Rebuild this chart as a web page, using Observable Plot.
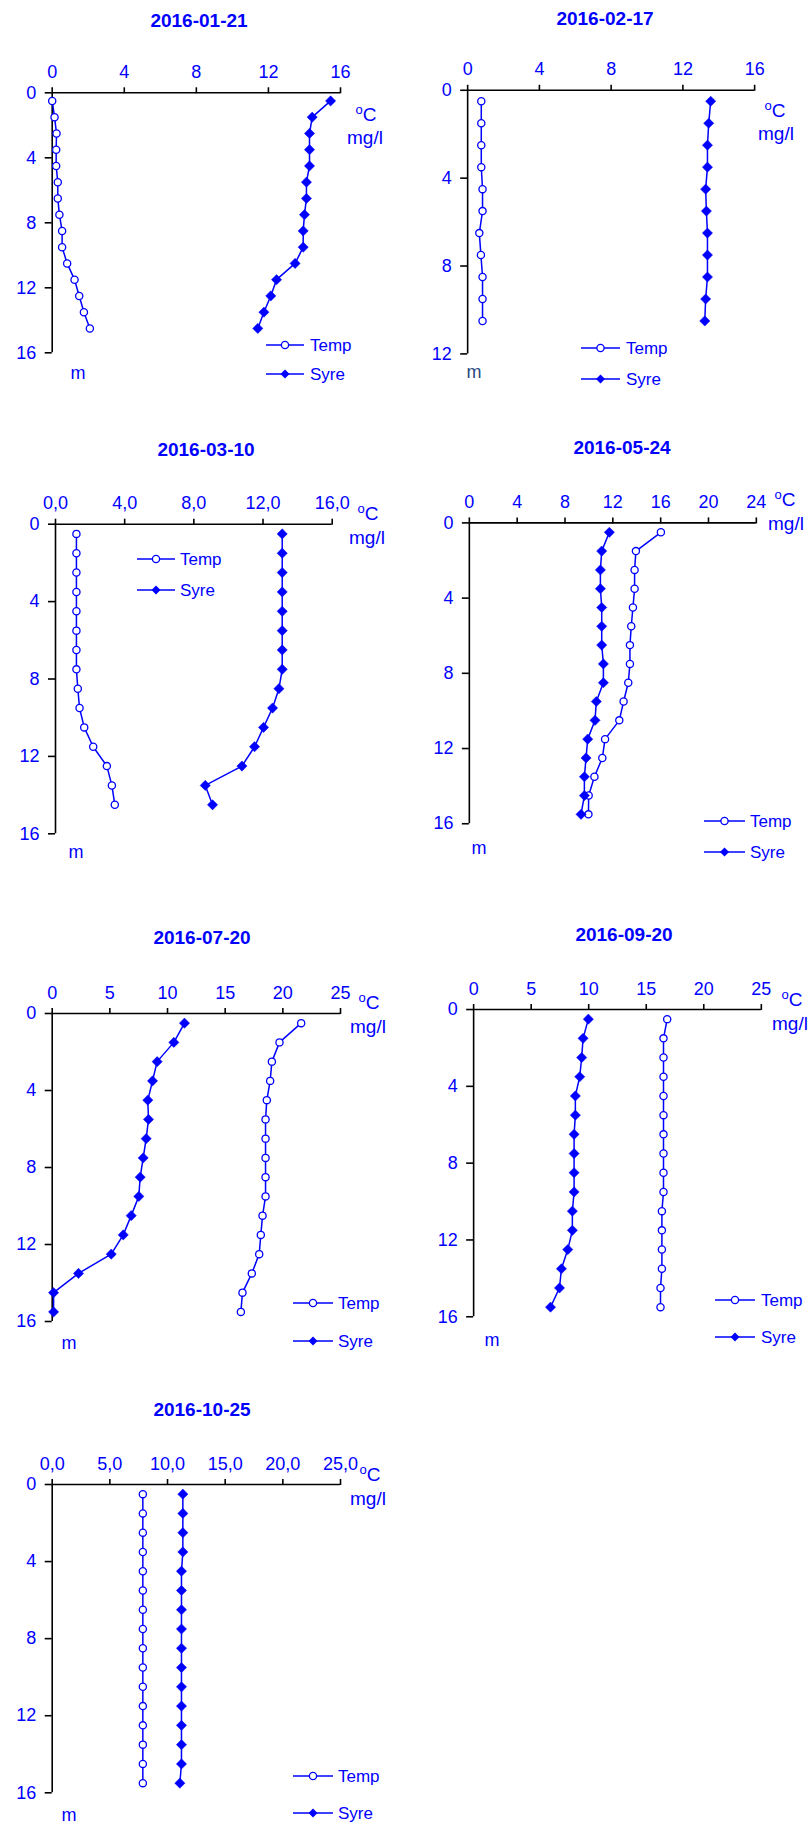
<!DOCTYPE html>
<html><head><meta charset="utf-8">
<script src="https://cdn.jsdelivr.net/npm/d3@7"></script>
<script src="https://cdn.jsdelivr.net/npm/@observablehq/plot@0.6"></script>
<style>
body{margin:0;background:#fff;}
#wrap{position:relative;width:809px;height:1825px;overflow:hidden;font-family:"Liberation Sans",Arial,sans-serif;color:#0000ff;}
.t{position:absolute;white-space:nowrap;line-height:1;}
.c{transform:translate(-50%,-50%);}
.l{transform:translate(0,-50%);}
.title{font-weight:bold;font-size:19px;}
.unit{font-size:19px;}
.m{font-size:18px;}
.leg{font-size:17px;}
.plotbox{position:absolute;}
.plotbox g[aria-label$="tick label"]{fill:#0000ff;}
</style>
</head><body>
<div id="wrap"></div>
<script>
// ---------- data ----------
const dates = ["2016-01-21","2016-02-17","2016-03-10","2016-05-24","2016-07-20","2016-09-20","2016-10-25"];

const depth11 = [0.5,1.5,2.5,3.5,4.5,5.5,6.5,7.5,8.5,9.5,10.5];
const depth15 = [0.5,1.5,2.5,3.5,4.5,5.5,6.5,7.5,8.5,9.5,10.5,11.5,12.5,13.5,14.5];
const depth16 = [0.5,1.5,2.5,3.5,4.5,5.5,6.5,7.5,8.5,9.5,10.5,11.5,12.5,13.5,14.5,15.5];

const temp_0121 = [0.0,0.13,0.24,0.22,0.22,0.31,0.31,0.40,0.55,0.55,0.83,1.24,1.50,1.76,2.09];
const syre_0121 = [15.45,14.43,14.28,14.28,14.28,14.11,14.11,14.00,13.93,13.93,13.48,12.45,12.13,11.75,11.41];

const temp_0217 = [0.76,0.76,0.76,0.76,0.83,0.83,0.65,0.74,0.83,0.83,0.83];
const syre_0217 = [13.55,13.44,13.37,13.37,13.27,13.31,13.37,13.37,13.37,13.27,13.22];

const temp_0310 = [1.21,1.21,1.21,1.21,1.21,1.21,1.21,1.21,1.29,1.39,1.66,2.18,2.97,3.26,3.43];
const syre_0310 = [13.11,13.11,13.11,13.11,13.11,13.11,13.11,13.11,12.92,12.55,12.03,11.51,10.78,8.66,9.08];

const temp_0524 = [16.02,13.93,13.82,13.82,13.68,13.54,13.43,13.43,13.29,12.90,12.54,11.35,11.12,10.46,9.98,9.96];
const syre_0524 = [11.71,11.07,10.96,10.96,11.07,11.07,11.07,11.21,11.21,10.62,10.51,9.90,9.76,9.62,9.62,9.34];

const temp_0720 = [21.59,19.71,19.05,18.90,18.61,18.50,18.50,18.50,18.50,18.50,18.24,18.09,17.95,17.31,16.50,16.36];
const syre_0720 = [11.47,10.55,9.10,8.70,8.29,8.35,8.15,7.89,7.63,7.51,6.85,6.16,5.12,2.28,0.12,0.12];

const temp_0920 = [16.82,16.50,16.50,16.50,16.50,16.50,16.50,16.50,16.50,16.50,16.36,16.36,16.36,16.36,16.24,16.24];
const syre_0920 = [9.97,9.51,9.39,9.22,8.84,8.84,8.73,8.73,8.73,8.73,8.58,8.58,8.18,7.63,7.46,6.68];

const temp_1025 = [7.86,7.86,7.86,7.86,7.86,7.86,7.86,7.86,7.86,7.86,7.86,7.86,7.86,7.86,7.86,7.86];
const syre_1025 = [11.33,11.33,11.33,11.33,11.21,11.21,11.21,11.21,11.21,11.21,11.21,11.21,11.21,11.21,11.21,11.07];

const xTicks16 = [0,4,8,12,16];
const xTicks24 = [0,4,8,12,16,20,24];
const xTicks25 = [0,5,10,15,20,25];
const yTicks16 = [0,4,8,12,16];
const yTicks12 = [0,4,8,12];

const seriesNames = ["Temp","Syre"];

const panels = [
  {date:dates[0], depth:depth15, temp:temp_0121, syre:syre_0121, xmax:16, ymax:16, xticks:xTicks16, yticks:yTicks16, comma:false},
  {date:dates[1], depth:depth11, temp:temp_0217, syre:syre_0217, xmax:16, ymax:12, xticks:xTicks16, yticks:yTicks12, comma:false},
  {date:dates[2], depth:depth15, temp:temp_0310, syre:syre_0310, xmax:16, ymax:16, xticks:xTicks16, yticks:yTicks16, comma:true},
  {date:dates[3], depth:depth16, temp:temp_0524, syre:syre_0524, xmax:24, ymax:16, xticks:xTicks24, yticks:yTicks16, comma:false},
  {date:dates[4], depth:depth16, temp:temp_0720, syre:syre_0720, xmax:25, ymax:16, xticks:xTicks25, yticks:yTicks16, comma:false},
  {date:dates[5], depth:depth16, temp:temp_0920, syre:syre_0920, xmax:25, ymax:16, xticks:xTicks25, yticks:yTicks16, comma:false},
  {date:dates[6], depth:depth16, temp:temp_1025, syre:syre_1025, xmax:25, ymax:16, xticks:xTicks25, yticks:yTicks16, comma:true}
];

// ---------- layout (page pixels) ----------
const layout = [
  {left:0,   top:0,    h:400, x0:51.7,  x1:340,   y0:92.3,   y1:352.3,
   title:[199,20], oc:[366,114], mg:[365,137], m:[78,373], mColor:"#0000ff", leg:[266,304,345,374,310]},
  {left:405, top:0,    h:400, x0:467.3, x1:755,   y0:90,     y1:354.3,
   title:[605,18], oc:[775,110], mg:[776,133], m:[474,372], mColor:"#1f497d", leg:[581,620,348,379,626]},
  {left:0,   top:400,  h:480, x0:55,    x1:331.7, y0:523.7,  y1:833.3,
   title:[206,449], oc:[368,513], mg:[367,537], m:[76,852], mColor:"#0000ff", leg:[137,175,559,590,180]},
  {left:405, top:400,  h:480, x0:469,   x1:756.7, y0:522.7,  y1:824.3,
   title:[622,447], oc:[785,499], mg:[786,523], m:[479,848], mColor:"#0000ff", leg:[704,745,821,852,750]},
  {left:0,   top:900,  h:480, x0:51.7,  x1:340,   y0:1013,   y1:1321,
   title:[202,937], oc:[369,1002], mg:[368,1026], m:[69,1343], mColor:"#0000ff", leg:[293,333,1303,1341,338]},
  {left:405, top:900,  h:480, x0:473.3, x1:761.7, y0:1009.3, y1:1317.3,
   title:[624,934], oc:[792,999], mg:[790,1023], m:[492,1340], mColor:"#0000ff", leg:[715,755,1300,1337,761]},
  {left:0,   top:1400, h:425, x0:51.7,  x1:340,   y0:1484,   y1:1792.3,
   title:[202,1409], oc:[370,1474], mg:[368,1498], m:[69,1815], mColor:"#0000ff", leg:[293,333,1776,1813,338]}
];

const BLUE = "#0000ff";
const wrap = document.getElementById("wrap");

function addText(html, cls, x, y, color) {
  const d = document.createElement("div");
  d.className = "t " + cls;
  d.style.left = x + "px";
  d.style.top = y + "px";
  if (color) d.style.color = color;
  d.innerHTML = html;
  wrap.appendChild(d);
}

function legendItem(x0, x1, y, tx, name) {
  const w = x1 - x0;
  const svgNS = "http://www.w3.org/2000/svg";
  const s = document.createElementNS(svgNS, "svg");
  s.setAttribute("width", w + 2);
  s.setAttribute("height", 14);
  s.style.position = "absolute";
  s.style.left = (x0 - 1) + "px";
  s.style.top = (y - 7) + "px";
  const mid = 1 + w / 2;
  let inner = `<line x1="1" x2="${w + 1}" y1="7" y2="7" stroke="${BLUE}" stroke-width="1.5"/>`;
  if (name === "Temp") inner += `<circle cx="${mid}" cy="7" r="3.6" fill="white" stroke="${BLUE}" stroke-width="1.3"/>`;
  else inner += `<path d="M${mid},2.5L${mid + 4.5},7L${mid},11.5L${mid - 4.5},7Z" fill="${BLUE}"/>`;
  s.innerHTML = inner;
  wrap.appendChild(s);
  addText(name, "l leg", tx, y, BLUE);
}

panels.forEach((p, i) => {
  const L = layout[i];
  const W = 405;
  const tempData = p.depth.map((d, j) => ({d, v: p.temp[j]}));
  const syreData = p.depth.map((d, j) => ({d, v: p.syre[j]}));
  const fmt = p.comma ? (v => d3.format(".1f")(v).replace(".", ",")) : (v => String(v));
  const chart = Plot.plot({
    width: W,
    height: L.h,
    marginLeft: L.x0 - L.left,
    marginRight: L.left + W - L.x1,
    marginTop: L.y0 - L.top,
    marginBottom: L.top + L.h - L.y1,
    x: {domain: [0, p.xmax], ticks: p.xticks, tickFormat: fmt},
    y: {domain: [0, p.ymax], reverse: true, ticks: p.yticks},
    style: {fontFamily: '"Liberation Sans", Arial, sans-serif', fontSize: "18px", color: "black", background: "transparent", overflow: "visible"},
    marks: [
      Plot.axisX({anchor: "top", ticks: p.xticks, tickFormat: fmt, tickSize: 6, tickPadding: 9, strokeWidth: 1.6, label: null}),
      Plot.axisY({anchor: "left", ticks: p.yticks, tickSize: 7, tickPadding: 9, strokeWidth: 1.6, label: null}),
      Plot.ruleY([0], {stroke: "black", strokeWidth: 1.6}),
      Plot.ruleX([0], {stroke: "black", strokeWidth: 1.6}),
      Plot.line(tempData, {x: "v", y: "d", stroke: BLUE, strokeWidth: 1.5}),
      Plot.line(syreData, {x: "v", y: "d", stroke: BLUE, strokeWidth: 1.5}),
      Plot.dot(tempData, {x: "v", y: "d", r: 3.6, fill: "white", stroke: BLUE, strokeWidth: 1.3}),
      Plot.dot(syreData, {x: "v", y: "d", symbol: "diamond2", r: 4.6, fill: BLUE, stroke: BLUE, strokeWidth: 0.5})
    ]
  });
  const box = document.createElement("div");
  box.className = "plotbox";
  box.style.left = L.left + "px";
  box.style.top = L.top + "px";
  box.appendChild(chart);
  wrap.appendChild(box);

  addText(p.date, "c title", L.title[0], L.title[1], BLUE);
  addText('<span style="font-size:13px;position:relative;top:-7px">o</span>C', "c unit", L.oc[0], L.oc[1], BLUE);
  addText("mg/l", "c unit", L.mg[0], L.mg[1], BLUE);
  addText("m", "c m", L.m[0], L.m[1], L.mColor);
  legendItem(L.leg[0], L.leg[1], L.leg[2], L.leg[4], seriesNames[0]);
  legendItem(L.leg[0], L.leg[1], L.leg[3], L.leg[4], seriesNames[1]);
});
</script>
</body></html>
